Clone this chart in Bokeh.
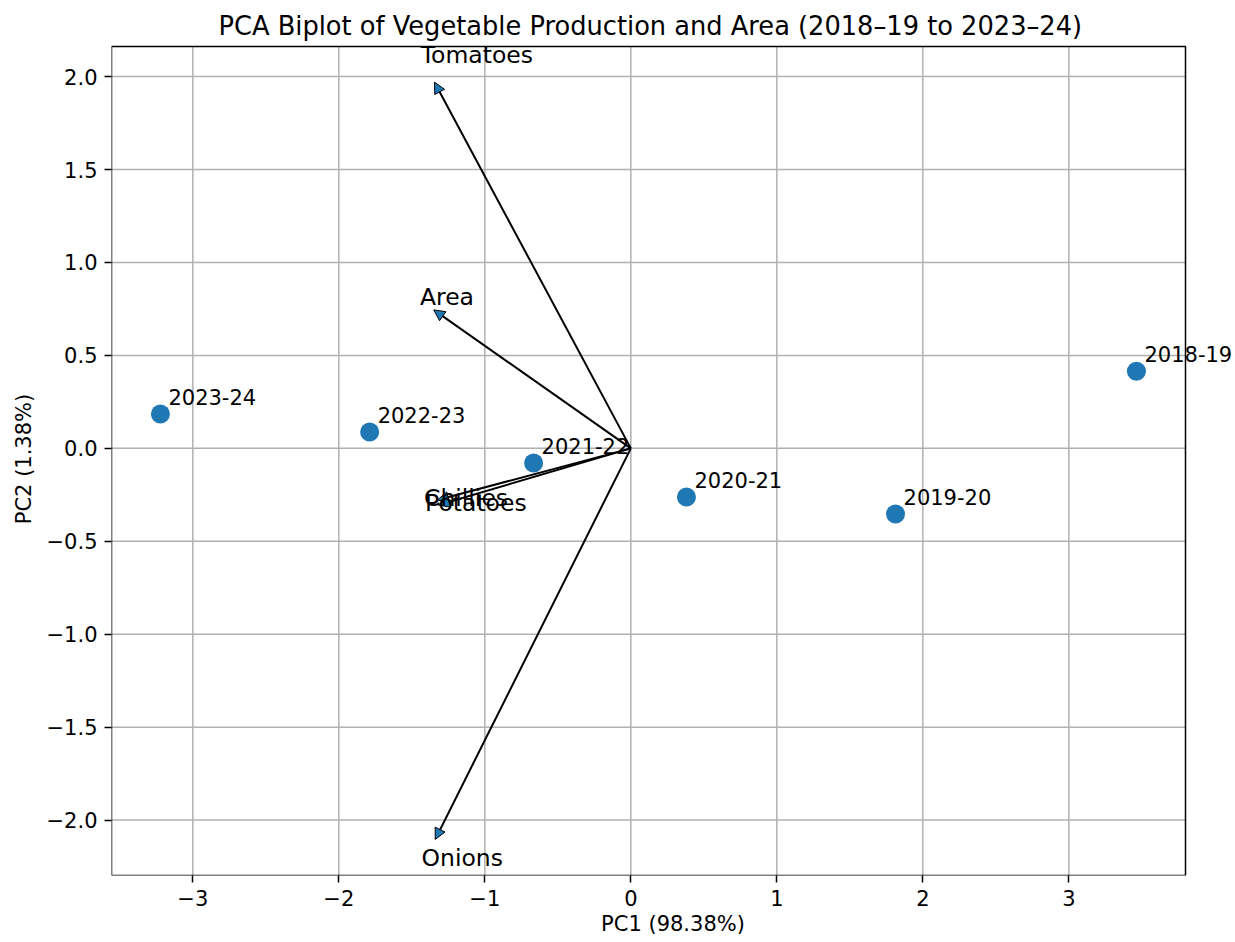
from bokeh.plotting import figure
from bokeh.models import ColumnDataSource, LabelSet, Arrow, NormalHead, FixedTicker, CustomJSTickFormatter, Range1d
from bokeh.core.properties import value
from bokeh.embed import file_html
from bokeh.resources import INLINE

# Scores (observations)
years = ["2018-19", "2019-20", "2020-21", "2021-22", "2022-23", "2023-24"]
pc1 = [3.463, 1.813, 0.381, -0.666, -1.789, -3.222]
pc2 = [0.415, -0.353, -0.262, -0.079, 0.088, 0.185]

# Loadings (scaled arrow tips)
variables = ["Tomatoes", "Area", "Chillies", "Potatoes", "Onions"]
load_pc1 = [-1.345, -1.350, -1.324, -1.317, -1.340]
load_pc2 = [1.970, 0.745, -0.278, -0.305, -2.104]

x_ticks = [-3, -2, -1, 0, 1, 2, 3]
y_ticks = [-2.0, -1.5, -1.0, -0.5, 0.0, 0.5, 1.0, 1.5, 2.0]

FONT = "DejaVu Sans"

# visible axes box (data units)
X_LO, X_HI = -3.557, 3.799
Y_LO, Y_HI = -2.298, 2.162
# the drawing frame is a little larger (right and top) so that labels may overhang the box
X_FRAME_HI = X_HI + 49 / 146.0
Y_FRAME_HI = Y_HI + 4 / 186.1

p = figure(width=1234, height=942, output_backend="svg", toolbar_location=None,
           x_range=Range1d(X_LO, X_FRAME_HI), y_range=Range1d(Y_LO, Y_FRAME_HI),
           title="PCA Biplot of Vegetable Production and Area (2018\u201319 to 2023\u201324)",
           min_border_left=111, min_border_right=0, min_border_top=42, min_border_bottom=67)

p.title.align = "left"
p.title.offset = 107
p.title.standoff = 3
p.title.text_font = FONT
p.title.text_font_size = "25.7px"
p.title.text_font_style = "normal"
p.title.text_color = "black"

p.outline_line_color = None
p.xgrid.visible = False
p.ygrid.visible = False

for ax in (p.xaxis[0], p.yaxis[0]):
    ax.axis_line_color = None
    ax.major_tick_line_color = "black"
    ax.major_tick_line_width = 1.5
    ax.major_tick_in = 0
    ax.major_tick_out = 7
    ax.minor_tick_line_color = None
    ax.major_label_text_font = FONT
    ax.major_label_text_font_size = "21px"
    ax.major_label_text_color = "black"
    ax.axis_label_text_font = FONT
    ax.axis_label_text_font_size = "21px"
    ax.axis_label_text_font_style = "normal"
    ax.axis_label_text_color = "black"

p.xaxis.major_label_standoff = 7
p.xaxis.axis_label_standoff = 3
p.yaxis.major_label_standoff = 7
p.yaxis.axis_label_standoff = 8

p.xaxis.axis_label = "PC1 (98.38%)"
p.yaxis.axis_label = "PC2 (1.38%)"
p.xaxis.ticker = FixedTicker(ticks=x_ticks)
p.yaxis.ticker = FixedTicker(ticks=y_ticks)
p.xaxis.formatter = CustomJSTickFormatter(code="return tick.toFixed(0).replace('-', '\u2212');")
p.yaxis.formatter = CustomJSTickFormatter(code="return tick.toFixed(1).replace('-', '\u2212');")

# grid lines, limited to the axes box
p.segment(x0=x_ticks, y0=[Y_LO] * len(x_ticks), x1=x_ticks, y1=[Y_HI] * len(x_ticks),
          line_color="#b0b0b0", line_width=1.5)
p.segment(x0=[X_LO] * len(y_ticks), y0=y_ticks, x1=[X_HI] * len(y_ticks), y1=y_ticks,
          line_color="#b0b0b0", line_width=1.5)

# Scores
src = ColumnDataSource(dict(x=pc1, y=pc2, label=years))
p.scatter("x", "y", source=src, size=19, color="#1f77b4", line_color=None)

# axes box
p.quad(left=[X_LO], right=[X_HI], bottom=[Y_LO], top=[Y_HI],
       fill_color=None, line_color="black", line_width=1.5)

p.add_layout(LabelSet(x="x", y="y", text="label", source=src, x_offset=8, y_offset=9,
                      text_font=value(FONT), text_font_size="21px", text_color="black",
                      text_align="left", text_baseline="alphabetic"))

# Loadings
lsrc = ColumnDataSource(dict(
    x=load_pc1, y=load_pc2, label=variables,
    lx=[v * 1.07 for v in load_pc1], ly=[v * 1.06 for v in load_pc2]))
p.add_layout(Arrow(end=NormalHead(size=11, fill_color="#1f77b4", line_color="black", line_width=1),
                   x_start=0, y_start=0, x_end="x", y_end="y", source=lsrc,
                   line_color="black", line_width=2))
p.add_layout(LabelSet(x="lx", y="ly", text="label", source=lsrc, y_offset=-3,
                      text_font=value(FONT), text_font_size="23.5px", text_color="black",
                      text_align="left", text_baseline="alphabetic"))

open("out.html", "w").write(file_html(p, INLINE))
